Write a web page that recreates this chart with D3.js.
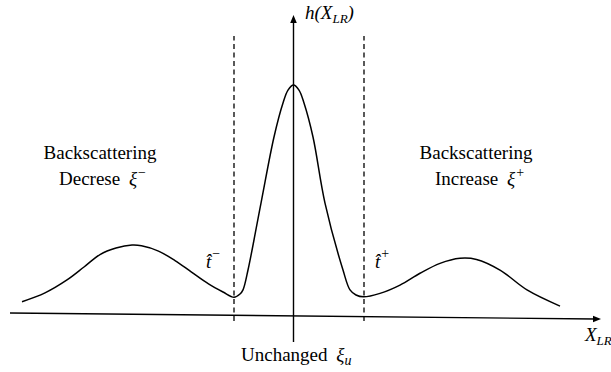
<!DOCTYPE html>
<html>
<head>
<meta charset="utf-8">
<script src="https://cdn.jsdelivr.net/npm/d3@7"></script>
<style>
html,body{margin:0;padding:0;background:#fff;}
svg{display:block;}
</style>
</head>
<body>
<svg id="chart" width="611" height="372"></svg>
<script>
// ---- data (abstract units: x=0 at the vertical axis, y=0 at baseline, peak = 1) ----
const curveX = [-5.43,-4.97,-4.53,-4.19,-3.87,-3.55,-3.23,-3.04,-2.70,-2.37,-2.04,-1.70,-1.41,-1.19,-1.07,-1.01,-0.91,-0.65,-0.39,-0.21,-0.11,0,0.11,0.21,0.39,0.63,0.99,1.13,1.25,1.40,1.73,2.13,2.53,2.93,3.33,3.66,4.13,4.67,5.33];
const curveY = [0.062,0.100,0.156,0.212,0.266,0.294,0.307,0.304,0.281,0.240,0.190,0.139,0.104,0.081,0.095,0.113,0.199,0.489,0.775,0.922,0.978,1.0,0.978,0.922,0.775,0.489,0.199,0.113,0.091,0.083,0.098,0.134,0.185,0.228,0.250,0.245,0.199,0.113,0.043];
const baseX = [-5.67, 6.15];
const baseY = [0.013, -0.013];
const thresholds = [-1.19, 1.41];
const yAxisRange = [-0.113, 1.303];
const dashRange = [-0.022, 1.212];

const FONT = "'Liberation Serif', 'Times New Roman', 'DejaVu Serif', serif";

const svg = d3.select("#chart");
const x = d3.scaleLinear().domain([-6, 6]).range([-6.5, 593.5]);
const y = d3.scaleLinear().domain([0, 1]).range([316, 85]);

// baseline (x axis) with arrow
svg.append("line")
  .attr("x1", x(baseX[0])).attr("y1", y(baseY[0]))
  .attr("x2", x(baseX[1]) - 6).attr("y2", y(baseY[1]))
  .attr("stroke", "#000").attr("stroke-width", 1.4);
{
  const tx = x(baseX[1]), ty = y(baseY[1]);
  svg.append("path")
    .attr("d", `M${tx},${ty} L${tx-8},${ty-3.3} L${tx-8},${ty+3.3} Z`)
    .attr("fill", "#000");
}

// vertical axis with arrow
{
  const ax = x(0);
  svg.append("line")
    .attr("x1", ax).attr("y1", y(yAxisRange[0]))
    .attr("x2", ax).attr("y2", y(yAxisRange[1]) + 6)
    .attr("stroke", "#000").attr("stroke-width", 1.4);
  const ty = y(yAxisRange[1]);
  svg.append("path")
    .attr("d", `M${ax},${ty} L${ax-3.3},${ty+8} L${ax+3.3},${ty+8} Z`)
    .attr("fill", "#000");
}

// dashed threshold lines
svg.selectAll("line.th").data(thresholds).join("line")
  .attr("class", "th")
  .attr("x1", d => x(d)).attr("x2", d => x(d))
  .attr("y1", y(dashRange[0])).attr("y2", y(dashRange[1]))
  .attr("stroke", "#000").attr("stroke-width", 1.3)
  .attr("stroke-dasharray", "5,3.5");

// curve
const pts = curveX.map((d, i) => [d, curveY[i]]);
svg.append("path")
  .datum(pts)
  .attr("d", d3.line().x(d => x(d[0])).y(d => y(d[1])).curve(d3.curveCatmullRom.alpha(0.5)))
  .attr("fill", "none").attr("stroke", "#000").attr("stroke-width", 1.5);

// labels
function addText(xp, yp, parts, anchor) {
  const t = svg.append("text").attr("x", xp).attr("y", yp).attr("font-size", 19)
    .attr("font-family", FONT).attr("fill", "#000")
    .attr("text-anchor", anchor || "start");
  parts.forEach(p => {
    const ts = t.append("tspan").text(p.t);
    if (p.italic) ts.attr("font-style", "italic");
    if (p.size) ts.attr("font-size", p.size);
    if (p.dy) ts.attr("dy", p.dy);
    if (p.dx) ts.attr("dx", p.dx);
  });
  return t;
}

addText(100, 159, [{t: "Backscattering"}], "middle");
addText(59, 185, [{t: "Decrese "}, {t: "ξ", italic: true, dx: 4}, {t: "−", size: 14, dy: -8, dx: 1}]);
addText(476, 159, [{t: "Backscattering"}], "middle");
addText(435, 185, [{t: "Increase "}, {t: "ξ", italic: true, dx: 4}, {t: "+", size: 14, dy: -8, dx: 1}]);
addText(241, 361, [{t: "Unchanged "}, {t: "ξ", italic: true, dx: 4}, {t: "u", italic: true, size: 14, dy: 4}]);

// y-axis label h(X_LR)
addText(305, 19, [{t: "h(X", italic: true}, {t: "LR", italic: true, size: 13, dy: 4}, {t: ")", italic: true, dy: -4}]);
// x-axis label X_LR
addText(585, 341, [{t: "X", italic: true}, {t: "LR", italic: true, size: 13, dy: 4}]);

// t-hat labels
addText(206, 268, [{t: "t\u0302", italic: true}, {t: "−", size: 14, dy: -10, dx: 1}]);
addText(375, 268, [{t: "t\u0302", italic: true}, {t: "+", size: 14, dy: -10, dx: 1}]);
</script>
</body>
</html>
